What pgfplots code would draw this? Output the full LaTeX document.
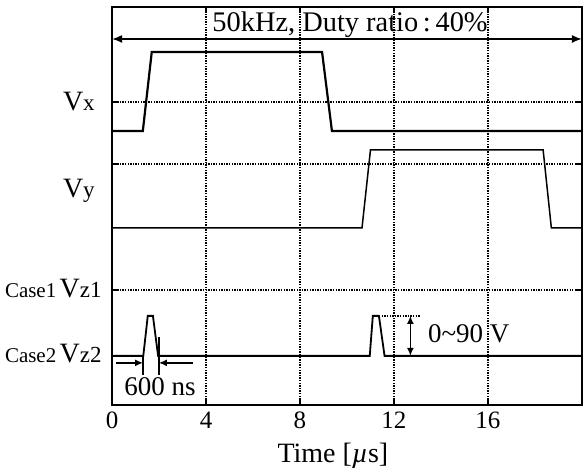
\documentclass[border=0pt]{standalone}
\usepackage{fontspec}
\setmainfont{Liberation Serif}
\usepackage{pgfplots}
\pgfplotsset{compat=1.18}
\usetikzlibrary{arrows.meta}

% left-hand signal labels
\newcommand{\sig}[1]{{\fontsize{14}{16}\selectfont V}{\fontsize{11.5}{13}\selectfont #1}}
\newcommand{\case}[1]{{\fontsize{10.5}{12}\selectfont Case#1}\,}

\begin{document}
\begin{tikzpicture}
\begin{axis}[
    scale only axis,
    width=235pt, height=199pt,
    xmin=0, xmax=20, ymin=0, ymax=398,
    clip=false,
    axis line style={line width=1pt},
    xtick={0,4,8,12,16},
    ytick={115,241,303},
    yticklabels={},
    tick align=inside,
    major tick length=3pt,
    tick style={black, line width=0.8pt},
    xmajorgrids, ymajorgrids,
    grid style={dash pattern=on 0.7pt off 0.6pt, line width=0.9pt, black},
    tick label style={font=\fontsize{12.5}{14}\selectfont},
    /pgf/number format/assume math mode=true,
    xlabel={Time [\textit{µ}s]},
    xlabel style={font=\fontsize{14}{16}\selectfont, at={(axis description cs:0.47,0)}, anchor=center, yshift=-25.5pt},
]
% Vx
\addplot[black, line width=1.1pt, mark=none] coordinates {
  (0,274) (1.31,274) (1.69,353) (8.94,353) (9.36,274) (20,274)};
% Vy
\addplot[black, line width=0.75pt, mark=none] coordinates {
  (0,177) (10.64,177) (11.0,255) (18.35,255) (18.7,177) (20,177)};
% Case2 Vz2
\addplot[black, line width=0.9pt, mark=none] coordinates {
  (0,49) (1.33,49) (1.52,89) (1.74,89) (1.96,49) (10.97,49)
  (11.1,89) (11.36,89) (11.6,49) (20,49)};

% period arrow and caption
\draw[line width=0.8pt, {Latex[length=5pt,width=4pt]}-{Latex[length=5pt,width=4pt]}]
  (axis cs:0,366) -- (axis cs:20,366);
\node[anchor=base, font=\fontsize{14.2}{17}\selectfont] at (axis cs:10.13,373)
  {50kHz, Duty ratio\,:\,40\%};

% 600 ns width marker
\draw[line width=0.7pt] (axis cs:1.32,49) -- (axis cs:1.32,30);
\draw[line width=0.7pt] (axis cs:1.99,68) -- (axis cs:1.99,30);
\draw[line width=0.8pt, -{Latex[length=4pt,width=3.5pt]}] (axis cs:0.17,42) -- (axis cs:1.32,42);
\draw[line width=0.8pt, -{Latex[length=4pt,width=3.5pt]}] (axis cs:3.45,42) -- (axis cs:1.99,42);
\node[font=\fontsize{13.5}{16}\selectfont] at (axis cs:2.04,18) {600 ns};

% amplitude marker
\draw[dash pattern=on 0.7pt off 0.6pt, line width=0.9pt] (axis cs:11.48,89) -- (axis cs:13.13,89);
\draw[line width=0.8pt, {Latex[length=4pt,width=3.5pt]}-{Latex[length=4pt,width=3.5pt]}]
  (axis cs:12.7,89) -- (axis cs:12.7,49);
\node[anchor=west, font=\fontsize{13.5}{16}\selectfont] at (axis cs:13.15,71) {0\textasciitilde90 V};

% signal names
\node[anchor=base east, inner sep=0pt] at (axis cs:-0.72,294) {\sig{x}};
\node[anchor=base east, inner sep=0pt] at (axis cs:-0.72,207) {\sig{y}};
\node[anchor=base east, inner sep=0pt] at (axis cs:-0.43,107) {\case{1}\sig{z1}};
\node[anchor=base east, inner sep=0pt] at (axis cs:-0.43,42) {\case{2}\sig{z2}};

% picture extent
\path (axis cs:-4.77,-71) (axis cs:20.04,405);
\end{axis}
\end{tikzpicture}
\end{document}
